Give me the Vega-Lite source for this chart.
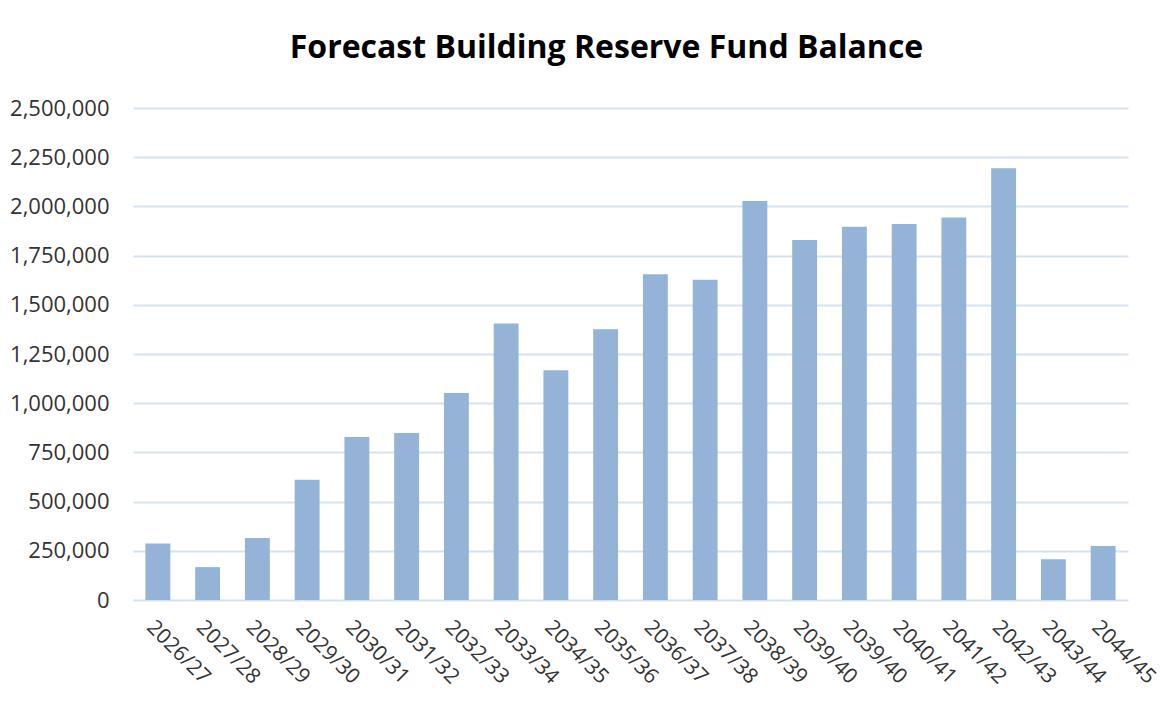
{
  "$schema": "https://vega.github.io/schema/vega-lite/v6.json",
  "width": 995,
  "height": 492,
  "autosize": {"type": "none"},
  "padding": {"left": 133, "top": 108, "right": 40, "bottom": 113},
  "background": "white",
  "title": {
    "text": "Forecast Building Reserve Fund Balance",
    "font": "Open Sans",
    "fontSize": 32,
    "fontWeight": "bold",
    "color": "#000000",
    "anchor": "middle",
    "dx": -24,
    "offset": 32
  },
  "data": {
    "values": [
      {"key": "2026/27|1", "year": "2026/27", "balance": 287500},
      {"key": "2027/28|1", "year": "2027/28", "balance": 167000},
      {"key": "2028/29|1", "year": "2028/29", "balance": 315000},
      {"key": "2029/30|1", "year": "2029/30", "balance": 611000},
      {"key": "2030/31|1", "year": "2030/31", "balance": 828000},
      {"key": "2031/32|1", "year": "2031/32", "balance": 849000},
      {"key": "2032/33|1", "year": "2032/33", "balance": 1052000},
      {"key": "2033/34|1", "year": "2033/34", "balance": 1405000},
      {"key": "2034/35|1", "year": "2034/35", "balance": 1167000},
      {"key": "2035/36|1", "year": "2035/36", "balance": 1376000},
      {"key": "2036/37|1", "year": "2036/37", "balance": 1655000},
      {"key": "2037/38|1", "year": "2037/38", "balance": 1627000},
      {"key": "2038/39|1", "year": "2038/39", "balance": 2027000},
      {"key": "2039/40|1", "year": "2039/40", "balance": 1829000},
      {"key": "2039/40|2", "year": "2039/40", "balance": 1897000},
      {"key": "2040/41|1", "year": "2040/41", "balance": 1911000},
      {"key": "2041/42|1", "year": "2041/42", "balance": 1944000},
      {"key": "2042/43|1", "year": "2042/43", "balance": 2194000},
      {"key": "2043/44|1", "year": "2043/44", "balance": 207000},
      {"key": "2044/45|1", "year": "2044/45", "balance": 274000}
    ]
  },
  "mark": {"type": "bar", "color": "#95B3D7"},
  "encoding": {
    "x": {
      "field": "key",
      "type": "nominal",
      "sort": null,
      "title": null,
      "scale": {"paddingInner": 0.5, "paddingOuter": 0.25},
      "axis": {
        "labelExpr": "split(datum.label, '|')[0]",
        "labelAngle": 45,
        "labelAlign": "left",
        "labelBaseline": "top",
        "labelPadding": 16,
        "labelFont": "Open Sans",
        "labelFontSize": 21,
        "labelColor": "#333333",
        "ticks": false,
        "domain": false,
        "grid": false
      }
    },
    "y": {
      "field": "balance",
      "type": "quantitative",
      "title": null,
      "scale": {"domain": [0, 2500000], "nice": false},
      "axis": {
        "values": [0, 250000, 500000, 750000, 1000000, 1250000, 1500000, 1750000, 2000000, 2250000, 2500000],
        "format": ",d",
        "labelFont": "Open Sans",
        "labelFontSize": 22,
        "labelColor": "#333333",
        "labelPadding": 24,
        "ticks": false,
        "domain": false,
        "grid": true,
        "gridColor": "#D6E1F1",
        "gridWidth": 2,
        "labelBaseline": "middle"
      }
    }
  },
  "config": {
    "view": {"stroke": null}
  }
}
